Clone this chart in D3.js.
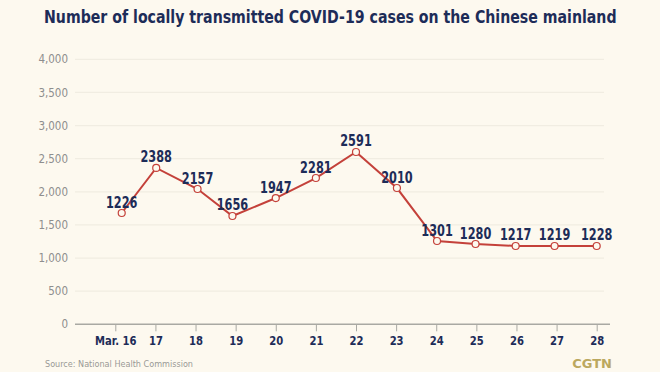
<!DOCTYPE html>
<html>
<head>
<meta charset="utf-8">
<script src="https://cdn.jsdelivr.net/npm/d3@7"></script>
<style>
  body { margin: 0; background: #fdf9ef; }
  svg { display: block; font-family: "DejaVu Sans Condensed", "DejaVu Sans", sans-serif; }
</style>
</head>
<body>
<div id="chart"></div>
<script>

// data
var days = [16, 17, 18, 19, 20, 21, 22, 23, 24, 25, 26, 27, 28];
var dayLabels = ["Mar. 16", "17", "18", "19", "20", "21", "22", "23", "24", "25", "26", "27", "28"];
// where each point sits along the day axis
var pointDays = [16.16, 17.02, 18.05, 18.92, 20, 21, 22, 23.02, 24.02, 24.98, 25.98, 26.95, 28];
// plotted heights
var plotted = [1680, 2360, 2042, 1635, 1906, 2208, 2601, 2057, 1257, 1212, 1182, 1182, 1182];
// numbers printed above the points
var valueLabels = ["1226", "2388", "2157", "1656", "1947", "2281", "2591", "2010", "1301", "1280", "1217", "1219", "1228"];
var yTicks = [0, 500, 1000, 1500, 2000, 2500, 3000, 3500, 4000];

var width = 660;
var height = 372;

var navy = "#1d2c58";
var red = "#c4413a";

var svg = d3.select("#chart")
    .append("svg")
    .attr("width", width)
    .attr("height", height);

svg.append("rect")
    .attr("width", width)
    .attr("height", height)
    .attr("fill", "#fdf9ef");

// title, squeezed to the width it has in the picture
var title = svg.append("text")
    .attr("x", 0)
    .attr("y", 0)
    .attr("font-size", 18)
    .attr("font-weight", "bold")
    .attr("fill", navy)
    .text("Number of locally transmitted COVID-19 cases on the Chinese mainland");

var titleW = title.node().getComputedTextLength();
title.attr("transform", "translate(44,23) scale(" + (573 / titleW) + ",1)");

var x = d3.scaleLinear()
    .domain([16, 28])
    .range([115.3, 596.7]);

var y = d3.scaleLinear()
    .domain([0, 4000])
    .range([324.3, 59.3]);

// grid
svg.append("g")
    .selectAll("line")
    .data(yTicks.slice(1))
    .enter()
    .append("line")
        .attr("x1", 75)
        .attr("x2", 604)
        .attr("y1", function(d) { return y(d); })
        .attr("y2", function(d) { return y(d); })
        .attr("stroke", "#f1ede2")
        .attr("stroke-width", 1.2);

// y labels
var yAxis = svg.append("g")
    .attr("transform", "translate(75,0)")
    .call(d3.axisLeft(y).tickValues(yTicks).tickSize(0).tickPadding(7).tickFormat(d3.format(",")));

yAxis.select(".domain").remove();
yAxis.selectAll("text")
    .attr("font-family", "DejaVu Sans Condensed")
    .attr("font-size", 11.5)
    .attr("fill", "#8e8e8e");

// x axis
var xAxis = svg.append("g")
    .attr("transform", "translate(0," + y(0) + ")")
    .call(d3.axisBottom(x).tickValues(days).tickSize(7).tickPadding(4)
        .tickFormat(function(d, i) { return dayLabels[i]; }));

xAxis.select(".domain").remove();
xAxis.selectAll(".tick line").attr("stroke", "#a9a9a3");
xAxis.selectAll("text")
    .attr("font-family", "DejaVu Sans Condensed")
    .attr("font-size", 13)
    .attr("font-weight", "bold")
    .attr("fill", navy)
    .attr("transform", "scale(0.86,1)");

svg.append("line")
    .attr("x1", 75)
    .attr("x2", 610)
    .attr("y1", y(0))
    .attr("y2", y(0))
    .attr("stroke", "#a9a9a3")
    .attr("stroke-width", 1.5);

// line
var points = days.map(function(d, i) {
    return { pos: pointDays[i], value: plotted[i], label: valueLabels[i] };
});

var line = d3.line()
    .x(function(d) { return x(d.pos); })
    .y(function(d) { return y(d.value); });

svg.append("path")
    .datum(points)
    .attr("d", line)
    .attr("fill", "none")
    .attr("stroke", red)
    .attr("stroke-width", 2);

svg.selectAll("circle.pt")
    .data(points)
    .enter()
    .append("circle")
        .attr("class", "pt")
        .attr("cx", function(d) { return x(d.pos); })
        .attr("cy", function(d) { return y(d.value); })
        .attr("r", 3.5)
        .attr("fill", "#fdf9ef")
        .attr("stroke", red)
        .attr("stroke-width", 1.2);

svg.selectAll("text.val")
    .data(points)
    .enter()
    .append("text")
        .attr("class", "val")
        .attr("transform", function(d) {
            return "translate(" + x(d.pos) + "," + (y(d.value) - 5.5) + ") scale(0.84,1)";
        })
        .attr("text-anchor", "middle")
        .attr("font-size", 15)
        .attr("font-weight", "bold")
        .attr("fill", navy)
        .text(function(d) { return d.label; });

// footer
svg.append("text")
    .attr("x", 45)
    .attr("y", 367)
    .attr("font-size", 9)
    .attr("fill", "#9a9a96")
    .text("Source: National Health Commission");

svg.append("text")
    .attr("x", 612)
    .attr("y", 368)
    .attr("text-anchor", "end")
    .attr("font-family", "DejaVu Sans")
    .attr("font-size", 13)
    .attr("font-weight", "bold")
    .attr("fill", "#bba85f")
    .text("CGTN");

</script>
</body>
</html>
